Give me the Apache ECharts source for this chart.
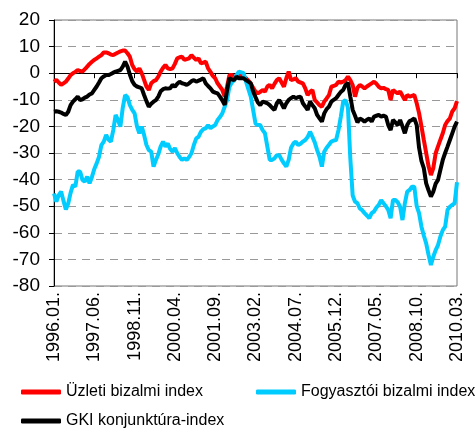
<!DOCTYPE html>
<html>
<head>
<meta charset="utf-8">
<script src="https://cdn.jsdelivr.net/npm/echarts@6/dist/echarts.min.js"></script>
<style>
  html, body { margin: 0; padding: 0; background: #fff; }
  #chart { width: 475px; height: 432px; }
</style>
</head>
<body>
<div id="chart"></div>
<script>
// monthly, 1996.01 - 2010.03
const startYear = 1996;
const monthCount = 171;

const uzleti = [
  -3.2, -2.5, -3.5, -4.4, -3.8, -3.2, -2, -0.7, 0, 0.5,
  1.2, 0.8, 0.6, 1.5, 2.5, 3.5, 4.3, 5, 5.6, 6.2,
  6.8, 7.8, 7.8, 7.5, 7, 6.8, 7.3, 7.8, 8.2, 8.5,
  8.5, 7.5, 6.2, 3.1, 1.5, 0.6, 1.8, 0, -2.5, -5,
  -6.3, -3.8, -3, -2.6, -1.3, 0.6, 2, 3.1, 1.8, 1.5,
  1.8, 3.5, 5.6, 6, 6.2, 5, 5.3, 5.6, 6.8, 5.8,
  5, 5.6, 3.7, 4, 4.3, 1.8, 0.5, -1, -1.9, -3.8,
  -5, -6.3, -8.8, -5.1, -0.7, -0.7, -1.2, -1.9, -0.7, -1,
  -1.3, -1.9, -2.8, -3.8, -5.5, -6.9, -7.6, -7, -6.3, -6.9,
  -5, -4.4, -5.7, -4, -2.6, -1.9, -3.5, -5.1, -1.9, 0.6,
  -2.6, -2.3, -1.9, -3.2, -3.5, -3.8, -5.7, -8.2, -7, -6.3,
  -10.1, -11, -12, -12.6, -10.7, -9.5, -8.2, -5.1, -4.8, -4.4,
  -3.2, -3.5, -3.2, -2.6, -1.3, -2.6, -4.5, -8.8, -5.5, -4.4,
  -5, -5.7, -5, -4.4, -3.8, -3.2, -4, -5.1, -5.7, -5.5,
  -6, -6.3, -10.1, -6.3, -7, -7.6, -6.9, -8.5, -10.1, -8.2,
  -8.8, -8.5, -8.2, -11.3, -15, -20, -25.1, -30, -35, -38.3,
  -35.7, -30.1, -27.5, -25, -22.6, -19.5, -18, -17, -14.4, -13.2,
  -10.5
];

const fogyasztoi = [
  -45.2, -48.3, -45.8, -44.5, -48, -51.2, -49, -45, -42, -42.7,
  -37, -37, -40.1, -40.8, -38.9, -41.4, -39, -36, -33.9, -31.4,
  -27, -25.7, -23.2, -25, -25.7, -21.4, -15.7, -17.6, -20.1, -13,
  -8.2, -9, -12, -13.8, -15.1, -20, -22.6, -20.1, -23.2, -27,
  -28.9, -29.5, -35.1, -32.6, -30.5, -27.5, -25.7, -27.6, -26.4, -28.5,
  -29.5, -28.2, -30.1, -31.5, -32.6, -32, -32.6, -31.5, -30.1, -27,
  -24.5, -23.9, -22, -21, -20.7, -19.5, -20.7, -20, -19.5, -17.6,
  -16.5, -15.1, -12.6, -10.1, -5.1, -3.5, -2.6, -0.7, 0.6, 0.3,
  0, -3.2, -6, -8.8, -13.8, -18.9, -19.5, -19.5, -21.4, -22.6,
  -27.6, -32.6, -32.6, -32, -30.8, -30.8, -32.5, -33.9, -35.1, -32.6,
  -28, -26.4, -25.7, -27, -26.5, -25.7, -25.1, -24, -22, -23.9,
  -26, -28.9, -31.4, -35.1, -29.5, -28, -26.9, -25.7, -25.3, -25.1,
  -21.4, -16.3, -10.7, -10.1, -13, -32, -46, -48.3, -48.9, -50.8,
  -51.5, -52.6, -53.5, -54.5, -52.6, -52, -50.5, -49.5, -47.7, -48.9,
  -50, -51.4, -54.5, -47.7, -47.7, -48.5, -50.2, -55.2, -48.9, -44.5,
  -43.9, -42.7, -42.7, -50, -52.6, -57.7, -61, -64, -68.3, -72.1,
  -69, -66.5, -64.6, -61.4, -59, -57.7, -51.4, -50.2, -49.5, -48.9,
  -41
];

const gki = [
  -14.5, -14.3, -14.5, -14.8, -15.3, -15.7, -14.5, -12, -10.7, -9.8,
  -8.8, -10.1, -9.8, -9.2, -8.8, -8, -7.6, -6.3, -5, -3.5,
  -1.9, -1.2, -0.7, -0.7, -0.3, 0.2, 0.6, 0.9, 1.2, 2.5,
  4.3, 2.5, -0.5, -3, -4.4, -5, -5.3, -5.7, -8.2, -10.5,
  -12.6, -11.5, -10.7, -10.1, -8.8, -6.8, -6, -5.7, -5.8, -5.7,
  -4.4, -5.1, -4, -3.2, -3.8, -4, -4.4, -3.8, -3, -2.6,
  -3.2, -2.8, -2.4, -1.9, -3.8, -4.8, -5.7, -6.9, -7.3, -7.6,
  -8.8, -10.2, -11.9, -6.5, -1.9, -2.3, -2.6, -1.3, -1.9, -1.9,
  -1.9, -2.6, -3.2, -3.8, -6.9, -9, -11, -12, -10.7, -11,
  -11.3, -12, -13, -13.8, -11.3, -10.1, -11.5, -13.2, -11.3, -10,
  -9.4, -8.8, -9.4, -9, -8.8, -11.3, -12.5, -13.8, -10.7, -12,
  -13.2, -15.7, -17, -18.2, -15.1, -13.5, -12.6, -10.7, -10, -9.4,
  -8.2, -7, -6.3, -4.4, -3.6, -8.8, -13.8, -16, -18.5, -17,
  -17.5, -18.2, -17.5, -17, -18.2, -16.3, -16, -15.7, -16.3, -16,
  -16.3, -19.5, -21.4, -17.6, -18.5, -19.5, -17.6, -20, -22.6, -19.5,
  -18, -17.6, -17, -19.5, -28, -33, -35.7, -41.4, -44, -46.4,
  -44.5, -41.5, -40.1, -36.3, -32.6, -30, -27.6, -25.1, -22.6, -20.1,
  -18.2
];

const months = [];
for (let i = 0; i < monthCount; i++) {
  const y = startYear + Math.floor(i / 12);
  const m = (i % 12) + 1;
  months.push(y + '.' + (m < 10 ? '0' + m : m) + '.');
}

const font = '"Liberation Sans", Arial, sans-serif';

const chart = echarts.init(document.getElementById('chart'), null, { renderer: 'canvas' });

function legendFor(name, left, top) {
  return {
    data: [name],
    left: left,
    top: top,
    padding: 0,
    icon: 'roundRect',
    itemWidth: 40,
    itemHeight: 5,
    textStyle: { fontFamily: font, fontSize: 16, color: '#000' }
  };
}

const option = {
  animation: false,
  backgroundColor: '#fff',
  legend: [
    legendFor('Üzleti bizalmi index', 21, 384),
    legendFor('Fogyasztói bizalmi index', 256, 384),
    legendFor('GKI konjunktúra-index', 21, 413)
  ],
  grid: {
    left: 54,
    right: 18,
    top: 20,
    bottom: 146,
    show: true,
    borderColor: '#777',
    borderWidth: 1
  },
  xAxis: {
    type: 'category',
    data: months,
    boundaryGap: false,
    axisLine: { lineStyle: { color: '#000', width: 1 } },
    axisTick: { interval: 16, length: 5, lineStyle: { color: '#000' } },
    axisLabel: {
      interval: 16,
      rotate: 90,
      margin: 6,
      fontFamily: font,
      fontSize: 18,
      color: '#000'
    },
    splitLine: { show: false }
  },
  yAxis: {
    type: 'value',
    min: -80,
    max: 20,
    interval: 10,
    axisLine: { show: true, lineStyle: { color: '#000', width: 1 } },
    axisTick: { show: true, length: 5, lineStyle: { color: '#000' } },
    axisLabel: { margin: 14, fontFamily: font, fontSize: 19, color: '#000' },
    splitLine: { lineStyle: { color: '#999', type: [8, 6], width: 1 } }
  },
  series: [
    {
      name: 'Üzleti bizalmi index',
      type: 'line',
      data: uzleti,
      symbol: 'none',
      lineStyle: { color: '#ff0000', width: 4 },
      itemStyle: { color: '#ff0000' }
    },
    {
      name: 'Fogyasztói bizalmi index',
      type: 'line',
      data: fogyasztoi,
      symbol: 'none',
      lineStyle: { color: '#00ccff', width: 4 },
      itemStyle: { color: '#00ccff' }
    },
    {
      name: 'GKI konjunktúra-index',
      type: 'line',
      data: gki,
      symbol: 'none',
      lineStyle: { color: '#000000', width: 4 },
      itemStyle: { color: '#000000' }
    }
  ]
};

chart.setOption(option);
</script>
</body>
</html>
